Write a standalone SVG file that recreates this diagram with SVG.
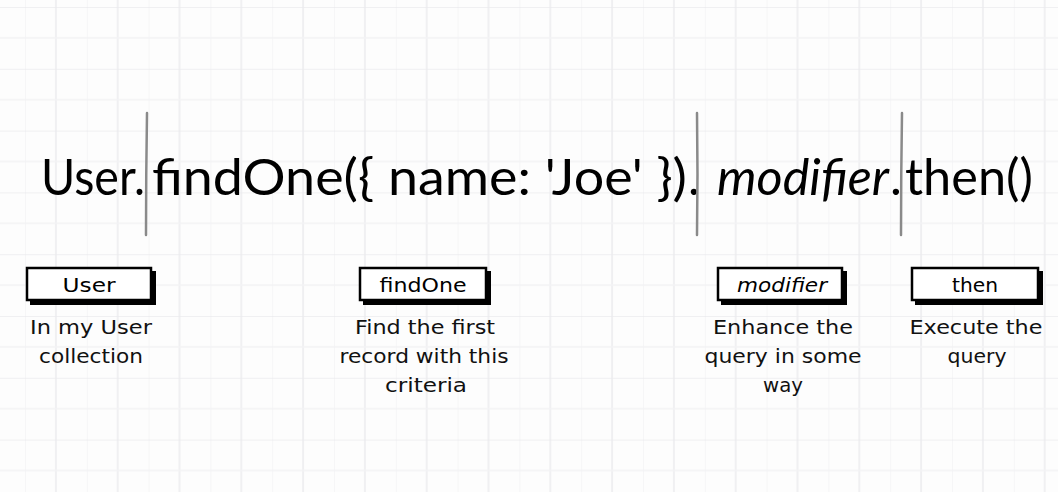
<svg xmlns="http://www.w3.org/2000/svg" width="1058" height="492" viewBox="0 0 1058 492">
<style>
.code{font-family:Lato,"Open Sans",sans-serif;font-size:50px;fill:#000}
.lbl{font-family:"DejaVu Sans","Open Sans",sans-serif;font-size:19px;fill:#000;text-anchor:middle}
.desc{font-family:"DejaVu Sans","Open Sans",sans-serif;font-size:19.5px;fill:#111;text-anchor:middle}
.sep{stroke:#8a8a8a;stroke-width:2.5;fill:none;stroke-linecap:round}
.shadow{fill:#000}
.box{fill:#fff;stroke:#000;stroke-width:2.5}
</style>
<defs>
<pattern id="grid" patternUnits="userSpaceOnUse" x="25" y="7" width="61.8" height="61.8">
<line x1="0" y1="0" x2="0" y2="61.8" stroke="#f3f3f5" stroke-width="1.5"/>
<line x1="30.9" y1="0" x2="30.9" y2="61.8" stroke="#ebebee" stroke-width="1.5"/>
<line x1="0" y1="0" x2="61.8" y2="0" stroke="#ebebee" stroke-width="1.5"/>
<line x1="0" y1="30.9" x2="61.8" y2="30.9" stroke="#f3f3f5" stroke-width="1.5"/>
</pattern>
</defs>
<rect width="1058" height="492" fill="#fdfdfd"/>
<rect width="1058" height="492" fill="url(#grid)"/>
<g id="code">
<text class="code" x="41" y="195" textLength="104" lengthAdjust="spacingAndGlyphs">User.</text>
<text class="code" x="152" y="195" textLength="535" lengthAdjust="spacingAndGlyphs">findOne({ name: 'Joe' })</text>
<text class="code" x="688" y="195">.</text>
<text class="code" x="717" y="195" font-style="italic" textLength="172" lengthAdjust="spacingAndGlyphs">modifier</text>
<text class="code" x="890" y="195">.</text>
<text class="code" x="905" y="195" textLength="128" lengthAdjust="spacingAndGlyphs">then()</text>
</g>
<g id="separators">
<path class="sep" d="M147 113 Q146 175 146 235"/>
<path class="sep" d="M697 113 Q698 175 697 235"/>
<path class="sep" d="M902 113 Q901 175 901 235"/>
</g>
<g id="node-user">
<rect class="shadow" x="30" y="271" width="126" height="34"/>
<rect class="box" x="27" y="268" width="124" height="32"/>
<text class="lbl" x="89" y="292" textLength="53" lengthAdjust="spacingAndGlyphs">User</text>
<text class="desc" x="91" y="334" textLength="122" lengthAdjust="spacingAndGlyphs">In my User</text>
<text class="desc" x="91" y="363" textLength="104" lengthAdjust="spacingAndGlyphs">collection</text>
</g>
<g id="node-findone">
<rect class="shadow" x="363" y="271" width="128" height="34"/>
<rect class="box" x="360" y="268" width="126" height="32"/>
<text class="lbl" x="423" y="292" textLength="87" lengthAdjust="spacingAndGlyphs">findOne</text>
<text class="desc" x="425" y="334" textLength="140" lengthAdjust="spacingAndGlyphs">Find the first</text>
<text class="desc" x="424" y="363" textLength="169" lengthAdjust="spacingAndGlyphs">record with this</text>
<text class="desc" x="426" y="392" textLength="82" lengthAdjust="spacingAndGlyphs">criteria</text>
</g>
<g id="node-modifier">
<rect class="shadow" x="721" y="271" width="126" height="34"/>
<rect class="box" x="718" y="268" width="124" height="32"/>
<text class="lbl" x="782" y="292" font-style="italic" textLength="90" lengthAdjust="spacingAndGlyphs">modifier</text>
<text class="desc" x="783" y="334" textLength="140" lengthAdjust="spacingAndGlyphs">Enhance the</text>
<text class="desc" x="783" y="363" textLength="157" lengthAdjust="spacingAndGlyphs">query in some</text>
<text class="desc" x="783" y="392" textLength="40" lengthAdjust="spacingAndGlyphs">way</text>
</g>
<g id="node-then">
<rect class="shadow" x="915" y="271" width="128" height="34"/>
<rect class="box" x="912" y="268" width="126" height="32"/>
<text class="lbl" x="975" y="292" textLength="46" lengthAdjust="spacingAndGlyphs">then</text>
<text class="desc" x="976" y="334" textLength="133" lengthAdjust="spacingAndGlyphs">Execute the</text>
<text class="desc" x="977" y="363" textLength="59" lengthAdjust="spacingAndGlyphs">query</text>
</g>
</svg>
